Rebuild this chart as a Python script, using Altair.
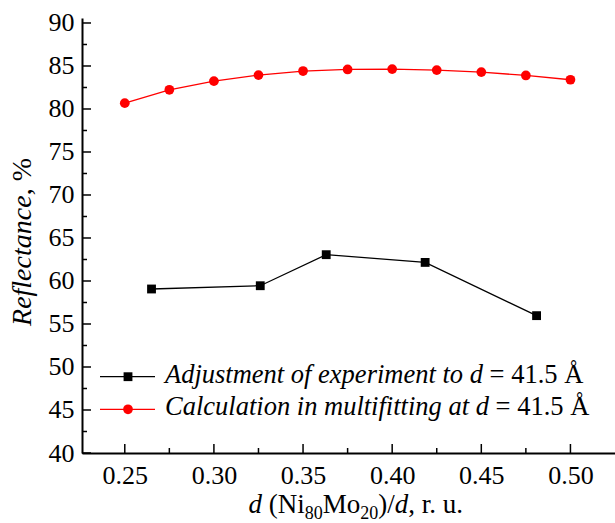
import altair as alt
import pandas as pd

# Measured reflectance, experiment adjusted to d = 41.5 Å
exp_x = [0.265, 0.326, 0.363, 0.4185, 0.481]
exp_y = [59.07, 59.45, 63.06, 62.16, 55.97]

# Multifitting calculation at d = 41.5 Å
calc_x = [0.25, 0.275, 0.30, 0.325, 0.35, 0.375, 0.40, 0.425, 0.45, 0.475, 0.50]
calc_y = [80.68, 82.23, 83.24, 83.94, 84.41, 84.60, 84.64, 84.52, 84.29, 83.90, 83.40]

x_major = [0.25, 0.30, 0.35, 0.40, 0.45, 0.50]
x_minor = [0.275, 0.325, 0.375, 0.425, 0.475]
y_major = [40, 45, 50, 55, 60, 65, 70, 75, 80, 85, 90]
y_minor = [42.5, 47.5, 52.5, 57.5, 62.5, 67.5, 72.5, 77.5, 82.5, 87.5]

legend_labels = [
    ("Adjustment of experiment to d", "= 41.5 Å", "black", "square"),
    ("Calculation in multifitting at d", "= 41.5 Å", "#ff0000", "circle"),
]

W, H = 533, 435
FONT = "Liberation Serif"
RED = "#ff0000"
SQ_SIZE, CIRC_SIZE = 78, 95

# Advance widths (1/1000 em) of Times-metric serif faces
ROMAN = {" ": 250, "=": 564, ".": 250, ",": 250, "(": 333, ")": 333,
         "/": 278, "%": 833, "Å": 722, "N": 722, "M": 889, "i": 278, "o": 500,
         "r": 333, "u": 500}
ITALIC = {" ": 250, "A": 611, "C": 667, "R": 611, "a": 500, "c": 444, "d": 500,
          "e": 444, "f": 278, "g": 500, "i": 278, "j": 278, "l": 278, "m": 722,
          "n": 500, "o": 500, "p": 500, "r": 389, "s": 389, "t": 278, "u": 500,
          "x": 444}
SPACE = 0.25  # em


def text_width(s, italic, size):
    table = ITALIC if italic else ROMAN
    return sum(table.get(ch, 500) for ch in s) * size / 1000.0


one = pd.DataFrame({"k": [0]})


def piece(txt, x, y, size, italic=False, angle=0):
    return alt.Chart(one).mark_text(
        text=txt, font=FONT, fontSize=size, color="black",
        fontStyle="italic" if italic else "normal",
        align="left", baseline="alphabetic", angle=angle,
    ).encode(x=alt.value(x), y=alt.value(y))


xscale = alt.Scale(domain=[0.226, 0.525], nice=False, zero=False)
yscale = alt.Scale(domain=[40, 90.58], nice=False, zero=False)

axis_common = dict(
    grid=False, ticks=False, tickSize=0, domainColor="black", domainWidth=2,
    labelFont=FONT, labelFontSize=26, labelColor="black", title=None,
)

calc_df = pd.DataFrame({"x": calc_x, "y": calc_y})
exp_df = pd.DataFrame({"x": exp_x, "y": exp_y})

calc_line = alt.Chart(calc_df).mark_line(color=RED, strokeWidth=1.3).encode(
    x=alt.X("x:Q", scale=xscale,
            axis=alt.Axis(values=x_major, format=".2f", labelPadding=9,
                          **axis_common)),
    y=alt.Y("y:Q", scale=yscale,
            axis=alt.Axis(values=y_major, format="d", labelPadding=8,
                          **axis_common)),
)
calc_pts = alt.Chart(calc_df).mark_point(
    shape="circle", filled=True, size=CIRC_SIZE, color=RED, opacity=1
).encode(x=alt.X("x:Q", scale=xscale), y=alt.Y("y:Q", scale=yscale))

exp_line = alt.Chart(exp_df).mark_line(color="black", strokeWidth=1.3).encode(
    x=alt.X("x:Q", scale=xscale), y=alt.Y("y:Q", scale=yscale)
)
exp_pts = alt.Chart(exp_df).mark_point(
    shape="square", filled=True, size=SQ_SIZE, color="black", opacity=1
).encode(x=alt.X("x:Q", scale=xscale), y=alt.Y("y:Q", scale=yscale))


# Inward-pointing ticks along both axes
def xticks(vals, length):
    return alt.Chart(pd.DataFrame({"v": vals})).mark_rule(
        color="black", strokeWidth=1.5
    ).encode(x=alt.X("v:Q", scale=xscale), y=alt.value(H), y2=alt.value(H - length))


def yticks(vals, length):
    return alt.Chart(pd.DataFrame({"v": vals})).mark_rule(
        color="black", strokeWidth=1.5
    ).encode(y=alt.Y("v:Q", scale=yscale), x=alt.value(0), x2=alt.value(length))


ticks = [xticks(x_major, 9), xticks(x_minor, 5), yticks(y_major, 9), yticks(y_minor, 5)]

# Legend drawn inside the plot area
legend_layers = []
LEG_FS = 26.5
for i, (ital, rom, color, shape) in enumerate(legend_labels):
    cy = 358.7 + i * 32.6
    legend_layers.append(
        alt.Chart(one).mark_rule(color=color, strokeWidth=1.3).encode(
            x=alt.value(18), x2=alt.value(73), y=alt.value(cy))
    )
    legend_layers.append(
        alt.Chart(one).mark_point(shape=shape, filled=True, opacity=1, color=color,
                                  size=SQ_SIZE if shape == "square" else CIRC_SIZE).encode(
            x=alt.value(46), y=alt.value(cy))
    )
    base = cy + 6
    legend_layers.append(piece(ital, 83, base, LEG_FS, italic=True))
    rx = 83 + text_width(ital, True, LEG_FS) + SPACE * LEG_FS
    legend_layers.append(piece(rom, rx, base, LEG_FS))

# x-axis title: d (Ni80Mo20)/d, r. u.   (text, italic, size, drop, gap before)
XF, XS = 27, 18
x_parts = [("d", True, XF, 0, 0), ("(Ni", False, XF, 0, SPACE * XF),
           ("80", False, XS, 6, 0), ("Mo", False, XF, 0, 0),
           ("20", False, XS, 6, 0), (")/", False, XF, 0, 0),
           ("d", True, XF, 0, 0), (", r. u.", False, XF, 0, 0)]
total = sum(text_width(t, it, s) + g for t, it, s, _, g in x_parts)
cx = 274.5 - total / 2
title_layers = []
for t, it, s, dy, g in x_parts:
    cx += g
    title_layers.append(piece(t, cx, 495 + dy, s, italic=it))
    cx += text_width(t, it, s)

# y-axis title: Reflectance, %
YF = 28
ystart = 224 + (text_width("Reflectance", True, YF) + text_width(", %", False, YF)) / 2
title_layers.append(piece("Reflectance", -51, ystart, YF, italic=True, angle=270))
title_layers.append(piece(", %", -51, ystart - text_width("Reflectance", True, YF),
                          YF, angle=270))

chart = alt.layer(
    calc_line, *ticks, exp_line, exp_pts, calc_pts, *legend_layers, *title_layers
).properties(
    width=W, height=H,
    autosize=alt.AutoSizeParams(type="none"),
    padding={"left": 82, "top": 18, "right": 0, "bottom": 70},
    background="white",
).configure_view(stroke=None)

chart.save("out.html", embed_options={"renderer": "svg", "actions": False})
